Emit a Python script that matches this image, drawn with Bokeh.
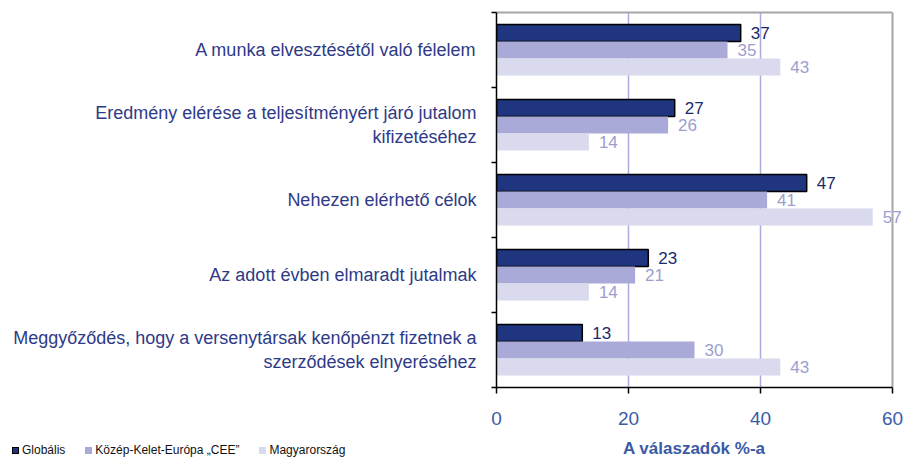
from bokeh.plotting import figure
from bokeh.layouts import column
from bokeh.models import (ColumnDataSource, Range1d, LinearAxis, Div,
                          FixedTicker, Grid)
from bokeh.transform import dodge
from bokeh.core.properties import value
from bokeh.embed import file_html
from bokeh.resources import INLINE

FONT = "Liberation Sans"

categories = [
    "A munka elvesztésétől való félelem",
    "Eredmény elérése a teljesítményért járó jutalom\nkifizetéséhez",
    "Nehezen elérhető célok",
    "Az adott évben elmaradt jutalmak",
    "Meggyőződés, hogy a versenytársak kenőpénzt fizetnek a\nszerződések elnyeréséhez",
]
series_names = ["Globális", "Közép-Kelet-Európa \u201eCEE\u201d", "Magyarország"]
globalis = [37, 27, 47, 23, 13]
cee = [35, 26, 41, 21, 30]
magyarorszag = [43, 14, 57, 14, 43]
x_ticks = [0, 20, 40, 60]
grid_ticks = [20, 40]
x_max = 60
axis_title = "A válaszadók %-a"

n = len(categories)
# category band centres (first category at the top)
band_centres = [n - i - 0.5 for i in range(n)]
band_edges = list(range(n + 1))

series_values = [globalis, cee, magyarorszag]
bar_colors = ["#1f3580", "#a9aad7", "#d9daed"]
bar_lines = ["black", None, None]
label_colors = ["#1c2a6b", "#9c9ed0", "#9c9ed0"]
offsets = [0.227, 0.0, -0.227]
bar_h = 0.227

# plot box 396 px wide for 0..60, plus 12 px of room on the right for value labels
plot_px, extra_px = 396, 12
x_range = Range1d(0, x_max * (plot_px + extra_px) / plot_px)

p = figure(
    y_range=Range1d(0, n),
    x_range=x_range,
    width=904, height=436,
    output_backend="svg", toolbar_location=None,
    x_axis_location=None, y_axis_location=None,
    min_border_left=496, min_border_right=0,
    min_border_top=12, min_border_bottom=49,
)
p.grid.grid_line_color = None
p.outline_line_color = None

p.add_layout(Grid(dimension=0, ticker=FixedTicker(ticks=grid_ticks),
                  grid_line_color="#a9acdc", grid_line_width=1.5))
# grey right border of the plot box
p.add_layout(Grid(dimension=0, ticker=FixedTicker(ticks=[x_max]),
                  grid_line_color="#a6a6a6", grid_line_width=2))
# grey top border of the plot box
top_axis = LinearAxis(
    ticker=FixedTicker(ticks=[]), bounds=(0, x_max),
    axis_line_color="#a6a6a6", axis_line_width=2,
    major_tick_out=0, major_tick_in=0, minor_tick_out=0, minor_tick_in=0,
    major_label_standoff=0, major_label_text_font_size="0px",
)
p.add_layout(top_axis, "above")

yaxis = LinearAxis(
    ticker=FixedTicker(ticks=band_centres, minor_ticks=band_edges),
    major_label_overrides={c: lab for c, lab in zip(band_centres, categories)},
    major_tick_out=0, major_tick_in=0,
    minor_tick_out=5, minor_tick_in=0,
    minor_tick_line_color="black", minor_tick_line_width=1.5,
    axis_line_color="black", axis_line_width=1.5,
    major_label_standoff=15,
    major_label_text_font=FONT, major_label_text_font_size="18px",
    major_label_text_color="#2e3a87",
)
p.add_layout(yaxis, "left")

xaxis = LinearAxis(
    ticker=FixedTicker(ticks=x_ticks), bounds=(0, x_max),
    major_tick_out=6, major_tick_in=0,
    minor_tick_out=0, minor_tick_in=0,
    axis_line_width=1.5, major_tick_line_width=1.5,
    major_label_standoff=18,
    major_label_text_font=FONT, major_label_text_font_size="19px",
    major_label_text_color="#3a5ba6",
)
p.add_layout(xaxis, "below")

for vals, col, lc, tc, off in zip(series_values, bar_colors, bar_lines,
                                  label_colors, offsets):
    src = ColumnDataSource(dict(pos=band_centres, val=vals, lbl=[str(v) for v in vals]))
    p.hbar(y=dodge("pos", off), left=0, right="val",
           height=bar_h, source=src, fill_color=col,
           line_color=lc, line_width=1.5)
    p.text(x="val", y=dodge("pos", off), text="lbl", source=src,
           x_offset=10, text_align="left", text_baseline="middle",
           text_font=value(FONT), text_font_size="17px", text_color=tc)

# strip below the chart: legend on the left, axis title centred under the x axis
legend_items = "".join(
    '<span style="display:inline-flex;align-items:center;margin-right:20px">'
    f'<span style="display:inline-block;width:7px;height:7px;box-sizing:border-box;'
    f'background:{col};border:{"1px solid " + lc if lc else "none"}"></span>'
    f'<span style="margin-left:3px">{name}</span></span>'
    for name, col, lc in zip(series_names, bar_colors, bar_lines)
)
strip_html = (
    f'<div style="position:relative;width:904px;height:23px;'
    f'font-family:\'{FONT}\',Arial,sans-serif;">'
    '<div style="position:absolute;left:12px;top:7px;font-size:12px;line-height:15px;'
    f'color:#111111;display:flex;white-space:nowrap">{legend_items}</div>'
    '<div style="position:absolute;left:594px;width:200px;top:3px;text-align:center;'
    'font-size:17px;line-height:19px;font-weight:bold;color:#3a5ba6;white-space:nowrap">'
    f'{axis_title}</div></div>'
)
strip = Div(text=strip_html, width=904, height=23, margin=(0, 0, 0, 0))

open("out.html", "w").write(file_html(column(p, strip, spacing=0), INLINE))
